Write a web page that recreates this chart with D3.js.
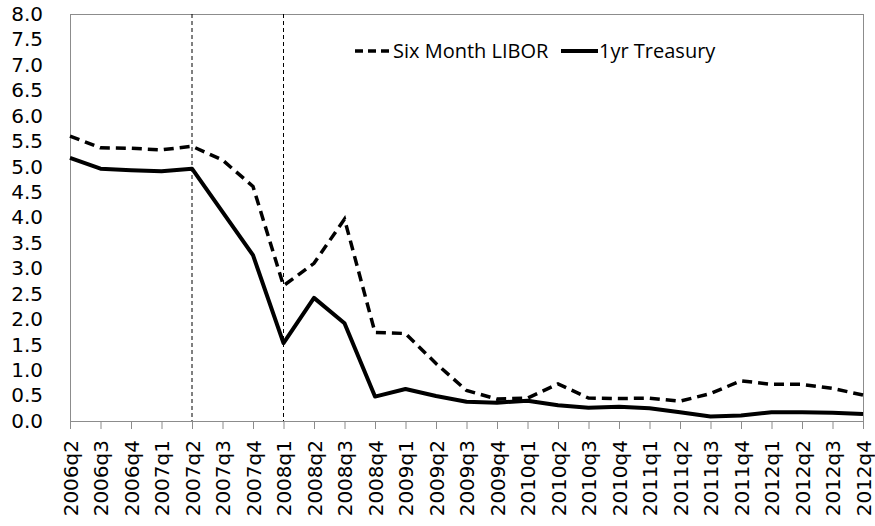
<!DOCTYPE html>
<html>
<head>
<meta charset="utf-8">
<script src="https://cdn.jsdelivr.net/npm/d3@7"></script>
<style>
  body { margin: 0; background: #fff; }
</style>
</head>
<body>
<svg id="chart"></svg>
<script>
var quarters = ["2006q2","2006q3","2006q4","2007q1","2007q2","2007q3","2007q4","2008q1","2008q2","2008q3",
                "2008q4","2009q1","2009q2","2009q3","2009q4","2010q1","2010q2","2010q3","2010q4","2011q1",
                "2011q2","2011q3","2011q4","2012q1","2012q2","2012q3","2012q4"]
var libor = [5.60,5.37,5.36,5.33,5.40,5.13,4.61,2.66,3.10,3.97,
             1.74,1.72,1.13,0.60,0.43,0.45,0.73,0.45,0.44,0.45,
             0.39,0.54,0.79,0.72,0.72,0.64,0.51]
var treasury = [5.17,4.96,4.93,4.91,4.96,4.11,3.26,1.53,2.42,1.92,
                0.48,0.63,0.49,0.38,0.36,0.40,0.31,0.26,0.28,0.25,
                0.17,0.09,0.11,0.17,0.17,0.16,0.14]
var yTicks = [0,0.5,1,1.5,2,2.5,3,3.5,4,4.5,5,5.5,6,6.5,7,7.5,8]
var markers = ["2007q2","2008q1"]
var legendNames = ["Six Month LIBOR","1yr Treasury"]

var dimensions = {
    width: 875,
    height: 526,
    margin: { top: 14, bottom: 105, right: 12, left: 70 }
}

var svg = d3.select("#chart")
            .attr("width", dimensions.width)
            .attr("height", dimensions.height)

var xScale = d3.scalePoint()
               .domain(quarters)
               .range([dimensions.margin.left, dimensions.width - dimensions.margin.right])

var yScale = d3.scaleLinear()
               .domain([0, 8])
               .range([dimensions.height - dimensions.margin.bottom, dimensions.margin.top])

var axisColor = "#8c8c8c"

// plot border
svg.append("rect")
   .attr("x", xScale.range()[0])
   .attr("y", yScale(8))
   .attr("width", xScale.range()[1] - xScale.range()[0])
   .attr("height", yScale(0) - yScale(8))
   .style("fill", "none")
   .style("stroke", axisColor)
   .style("stroke-width", 1)
   .attr("shape-rendering", "crispEdges")

// y axis
var yAxis = svg.append("g")
   .attr("transform", `translate(${dimensions.margin.left},0)`)
   .call(d3.axisLeft(yScale).tickValues(yTicks).tickSize(0).tickPadding(27).tickFormat(d3.format(".1f")))
yAxis.select(".domain").style("stroke", axisColor)
yAxis.selectAll("text")
     .style("font-family", "DejaVu Sans")
     .style("font-size", "20px")
     .style("fill", "#000")

// x axis
var xAxis = svg.append("g")
   .attr("transform", `translate(0,${yScale(0)})`)
   .call(d3.axisBottom(xScale).tickSizeInner(8).tickSizeOuter(0))
xAxis.select(".domain").style("stroke", axisColor)
xAxis.selectAll("line").style("stroke", axisColor)
xAxis.selectAll("text")
     .attr("transform", "rotate(-90)")
     .attr("x", -19)
     .attr("y", 0)
     .attr("dy", "0.36em")
     .style("text-anchor", "end")
     .style("font-family", "DejaVu Sans")
     .style("font-size", "20px")
     .style("fill", "#000")

// vertical marker lines
svg.selectAll(".marker")
   .data(markers)
   .enter().append("line")
   .attr("class", "marker")
   .attr("x1", d => xScale(d))
   .attr("x2", d => xScale(d))
   .attr("y1", yScale(8))
   .attr("y2", yScale(0))
   .style("stroke", "#000")
   .style("stroke-width", 1)
   .style("stroke-dasharray", "4,3")

var line = d3.line()
             .x((d, i) => xScale(quarters[i]))
             .y(d => yScale(d))

svg.append("path")
   .datum(libor)
   .attr("d", line)
   .style("fill", "none")
   .style("stroke", "#000")
   .style("stroke-width", 3.5)
   .style("stroke-dasharray", "10,6")

svg.append("path")
   .datum(treasury)
   .attr("d", line)
   .style("fill", "none")
   .style("stroke", "#000")
   .style("stroke-width", 4)
   .style("stroke-linejoin", "round")

// legend
var legend = svg.append("g")
var legendY = 51
legend.append("line")
      .attr("x1", 355).attr("x2", 391)
      .attr("y1", legendY).attr("y2", legendY)
      .style("stroke", "#000")
      .style("stroke-width", 3.5)
      .style("stroke-dasharray", "8,5")
legend.append("text")
      .attr("x", 393).attr("y", legendY)
      .attr("dy", "0.35em")
      .text(legendNames[0])
legend.append("line")
      .attr("x1", 561).attr("x2", 598)
      .attr("y1", legendY).attr("y2", legendY)
      .style("stroke", "#000")
      .style("stroke-width", 4)
legend.append("text")
      .attr("x", 599).attr("y", legendY)
      .attr("dy", "0.35em")
      .text(legendNames[1])
legend.selectAll("text")
      .style("font-family", "Open Sans")
      .style("font-size", "20px")
      .style("fill", "#000")
</script>
</body>
</html>
